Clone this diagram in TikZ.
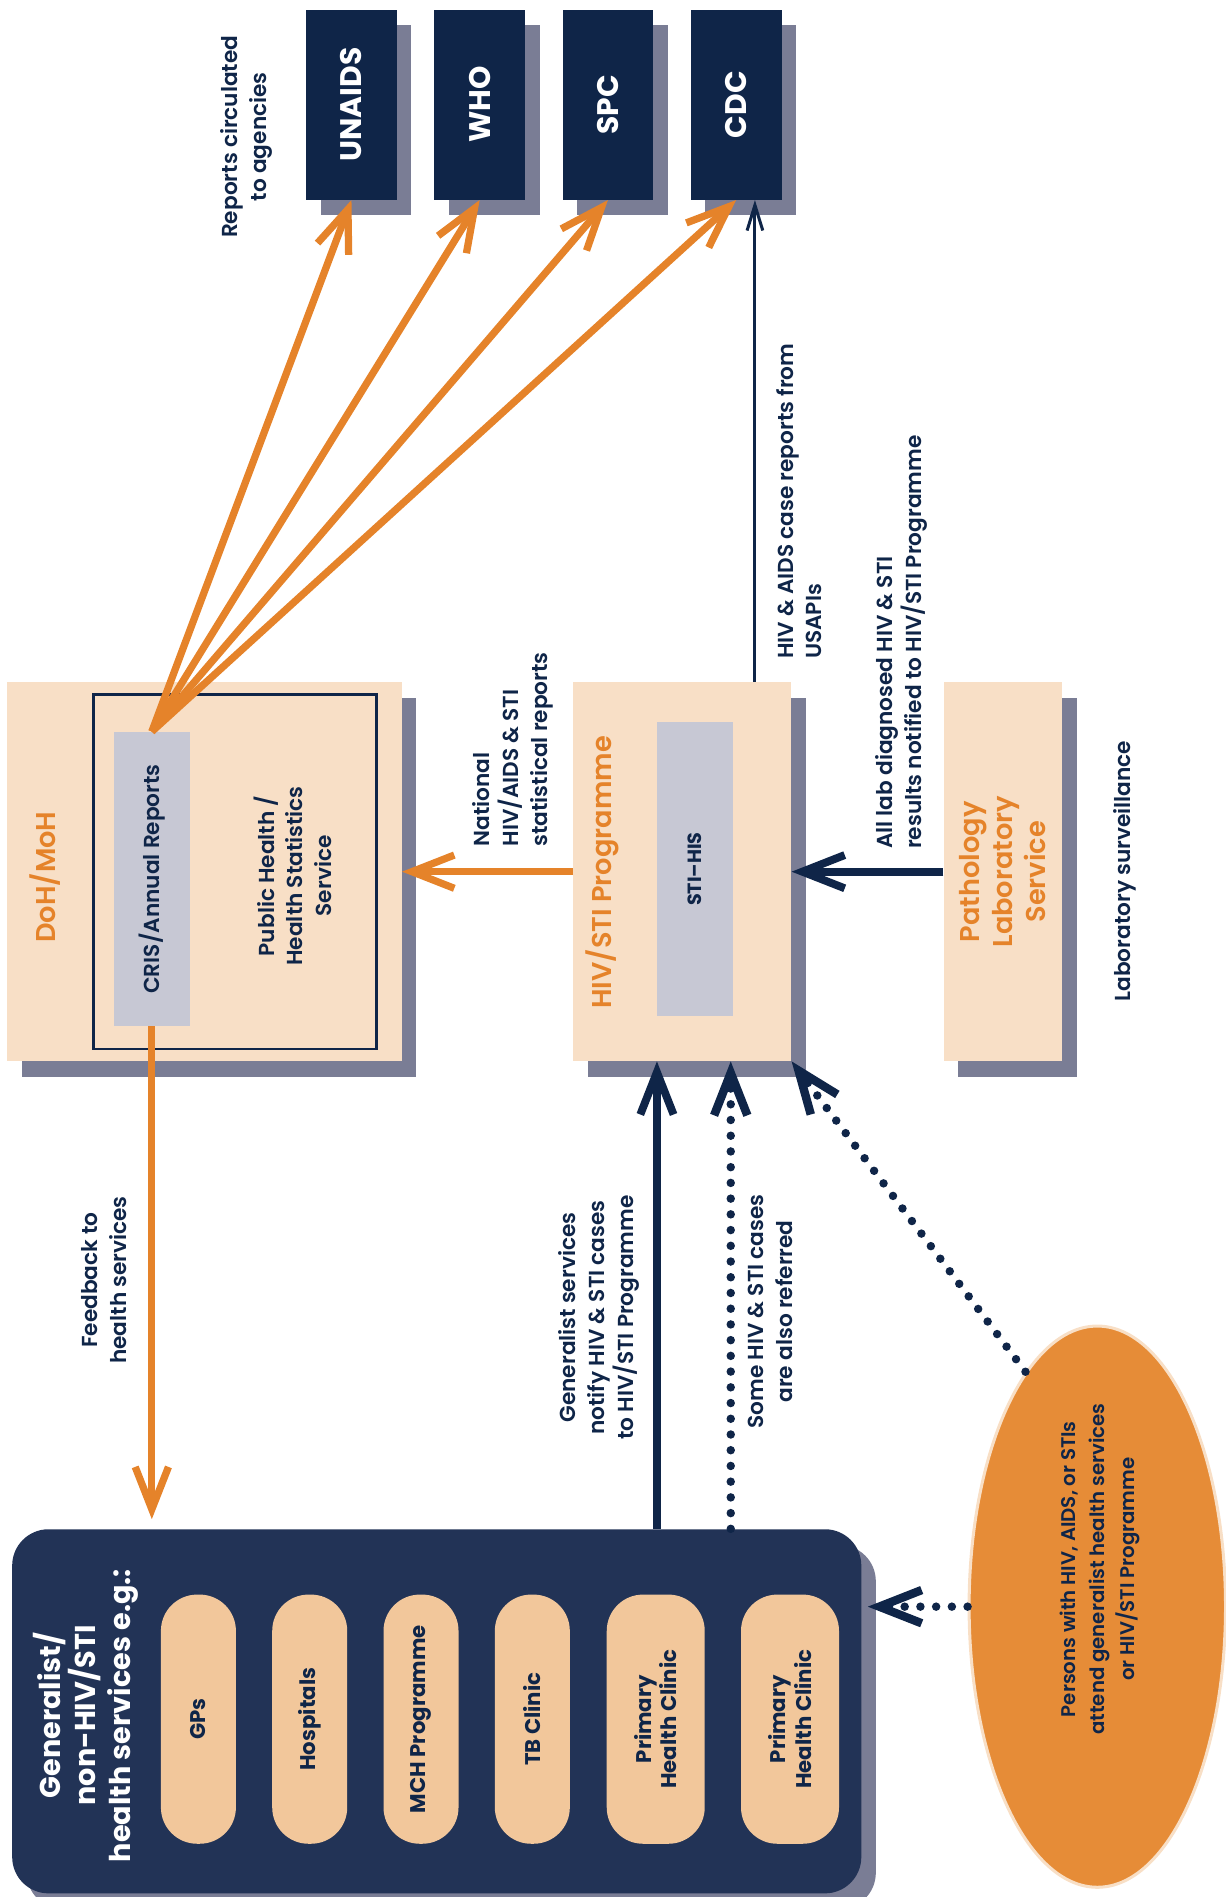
\documentclass[tikz,border=0pt]{standalone}
\usepackage{fontspec}
\setmainfont{Poppins}
\newfontfamily\medfont{Poppins SemiBold}
\usetikzlibrary{shapes.geometric, arrows.meta, positioning, calc, shadows}

\definecolor{navyc}{HTML}{0F2548}
\definecolor{genc}{HTML}{223356}
\definecolor{peachc}{HTML}{F8DFC6}
\definecolor{pillc}{HTML}{F2C79B}
\definecolor{greyc}{HTML}{C7C8D4}
\definecolor{orangec}{HTML}{E5832A}
\definecolor{ellc}{HTML}{E68C37}
\definecolor{shadowc}{HTML}{7A7D95}

\begin{document}
\begin{tikzpicture}[x=0.02cm, y=-0.02cm,
    bshadow/.style={drop shadow={shadow xshift=0.24cm, shadow yshift=-0.26cm, fill=shadowc, opacity=1}},
    agency/.style={rectangle, fill=navyc, text=white, rotate=90, minimum width=3.14cm, minimum height=1.5cm, font=\fontsize{14}{16}\selectfont\bfseries, bshadow},
    panel/.style={rectangle, fill=peachc, bshadow},
    inbox/.style={rectangle, fill=greyc, text=navyc, rotate=90, minimum width=4.86cm, minimum height=1.26cm},
    pill/.style={rectangle, rounded corners=0.6cm, fill=pillc, text=navyc, rotate=90, minimum width=4.12cm, minimum height=1.24cm, align=center, font=\fontsize{10}{12}\selectfont\bfseries},
    oval/.style={ellipse, fill=ellc, draw=peachc, line width=0.05cm, rotate=90, minimum width=9.28cm, minimum height=4.24cm, inner sep=0pt},
    lbl/.style={text=navyc, rotate=90, align=center, inner sep=0pt, font=\medfont\fontsize{10.2}{13.5}\selectfont},
    otitle/.style={text=orangec, rotate=90, align=center, inner sep=0pt, font=\medfont\fontsize{12.8}{15.5}\selectfont},
    oarrow/.style={draw=orangec, line width=0.12cm, -{Straight Barb[length=0.7cm, width=0.55cm]}},
    narrow/.style={draw=navyc, line width=0.13cm, -{Straight Barb[length=0.7cm, width=0.55cm]}},
    dotarrow/.style={draw=navyc, line width=0.14cm, line cap=round, dash pattern=on 0pt off 0.26cm, -{Straight Barb[length=0.7cm, width=0.55cm]}}
]
\useasboundingbox (0,0) rectangle (1013,1568);

% agencies
\node[agency] (unaids) at (290.5,86.5) {UNAIDS};
\node[agency] (who) at (396.5,86.5) {WHO};
\node[agency] (spc) at (502.5,86.5) {SPC};
\node[agency] (cdc) at (608.5,86.5) {CDC};
\node[lbl] (circ) at (204,113) {Reports circulated\\to agencies};

% DoH / MoH
\node[panel, minimum width=6.52cm, minimum height=6.26cm] (doh) at (169,720.5) {};
\node[rectangle, draw=navyc, line width=0.045cm, minimum width=4.68cm, minimum height=5.86cm] (phs) at (194,720.5) {};
\node[inbox, font=\medfont\fontsize{10.2}{13}\selectfont] (cris) at (125.5,726.5) {CRIS/Annual Reports};
\node[otitle] (dohtitle) at (37,725) {DoH/MoH};
\node[lbl] (phstext) at (242,724) {Public Health /\\Health Statistics\\Service};

% HIV/STI programme
\node[panel, minimum width=3.6cm, minimum height=6.26cm] (hiv) at (564,720.5) {};
\node[inbox, font=\fontsize{9}{11}\selectfont\bfseries] (stihis) at (574.5,718.5) {STI--HIS};
\node[otitle] (hivtitle) at (498,721) {HIV/STI Programme};

% pathology
\node[rectangle, fill=peachc, bshadow, rotate=90, minimum width=6.26cm, minimum height=1.96cm, text=orangec, align=center, font=\medfont\fontsize{12.8}{15.5}\selectfont] (path) at (829,720.5) {Pathology\\Laboratory\\Service};
\node[lbl] (labsurv) at (930,720) {Laboratory surveillance};

% generalist services
\node[rectangle, rounded corners=0.6cm, fill=genc, bshadow, minimum width=14.04cm, minimum height=6.02cm] (gen) at (361,1414.5) {};
\node[lbl, text=white, font=\fontsize{13.5}{16.5}\selectfont\bfseries] (gentitle) at (71,1418) {Generalist/\\non-HIV/STI\\health services e.g.:};
\node[pill] (gps) at (164,1421) {GPs};
\node[pill] (hosp) at (256,1421) {Hospitals};
\node[pill] (mch) at (348,1421) {MCH Programme};
\node[pill] (tb) at (440,1421) {TB Clinic};
\node[pill, minimum height=1.62cm] (phc1) at (542,1421) {Primary\\Health Clinic};
\node[pill, minimum height=1.62cm] (phc2) at (653,1421) {Primary\\Health Clinic};

% persons
\node[oval] (persons) at (907,1328) {};
\node[lbl, font=\medfont\fontsize{9.3}{14}\selectfont] (perstext) at (909,1297) {Persons with HIV, AIDS, or STIs\\attend generalist health services\\or HIV/STI Programme};

% flow labels
\node[lbl, anchor=west, align=left] (natl) at (424,700) {National\\HIV/AIDS \& STI\\statistical reports};
\node[lbl, anchor=west, align=left] (usapi) at (660.5,545) {HIV \& AIDS case reports from\\USAPIs};
\node[lbl, anchor=west, align=left] (labres) at (745,702) {All lab diagnosed HIV \& STI\\results notified to HIV/STI Programme};
\node[lbl] (feedb) at (86,1058) {Feedback to\\health services};
\node[lbl] (notify) at (495,1089) {Generalist services\\notify HIV \& STI cases\\to HIV/STI Programme};
\node[lbl] (referred) at (637,1084) {Some HIV \& STI cases\\are also referred};

% connectors
\draw[oarrow] (cris.east) -- (unaids.west);
\draw[oarrow] (cris.east) -- (who.west);
\draw[oarrow] (cris.east) -- (spc.west);
\draw[oarrow] (cris.east) -- (cdc.west);
\draw[oarrow, shorten >=0.16cm] (cris.west) -- (gen.north -| cris.west);
\draw[oarrow] (hiv.west) -- (doh.east);
\draw[narrow] (path.north) -- (hiv.east);
\draw[draw=navyc, line width=0.05cm, -{Straight Barb[length=0.42cm, width=0.26cm]}] (hiv.north -| 624,0) -- (cdc.west -| 624,0);
\draw[narrow] (gen.north -| 543,0) -- (hiv.south -| 543,0);
\draw[dotarrow] (gen.north -| 604,0) -- (hiv.south -| 604,0);
\draw[dotarrow, shorten >=0.1cm] (persons.north) -- (gen.east |- persons.north);
\draw[dotarrow] (persons.17) -- (hiv.south east);

\end{tikzpicture}
\end{document}
